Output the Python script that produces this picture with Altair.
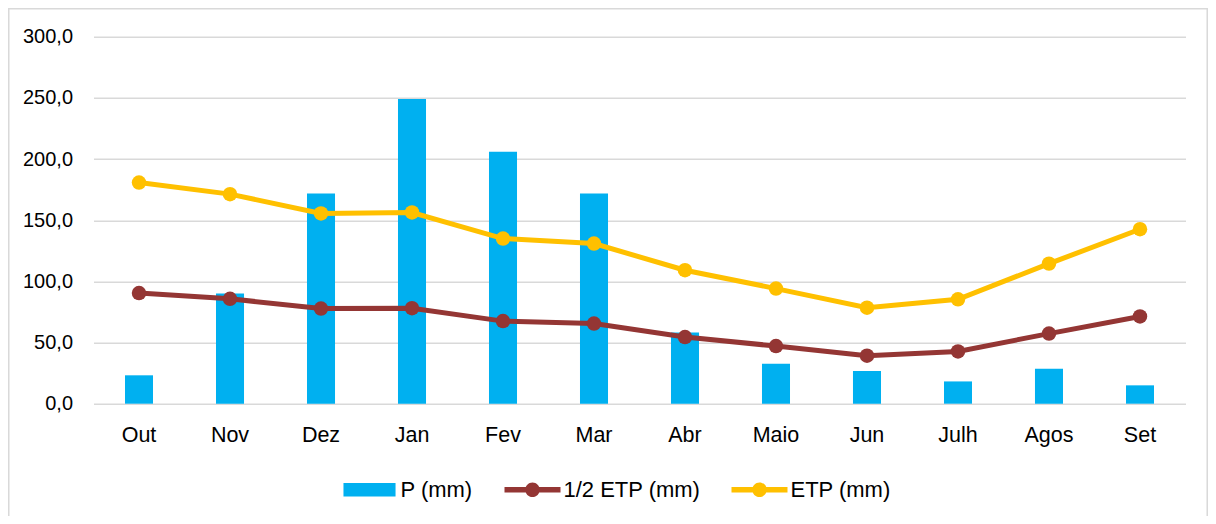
import altair as alt
import pandas as pd

meses = ["Out", "Nov", "Dez", "Jan", "Fev", "Mar", "Abr", "Maio", "Jun", "Julh", "Agos", "Set"]
p_mm = [23.2, 90.0, 171.8, 249.0, 205.9, 171.8, 58.1, 32.7, 26.7, 18.2, 28.6, 15.0]
etp_mm = [180.8, 171.3, 155.5, 156.3, 135.0, 130.9, 109.1, 94.1, 78.5, 85.3, 114.5, 142.6]
meia_etp_mm = [90.4, 85.7, 77.8, 78.1, 67.5, 65.5, 54.5, 47.1, 39.2, 42.7, 57.3, 71.3]

series = ["P (mm)", "1/2 ETP (mm)", "ETP (mm)"]
cores = ["#00B0F0", "#943634", "#FFC000"]
y_ticks = [0, 50, 100, 150, 200, 250, 300]

rows = []
for i, m in enumerate(meses):
    rows.append({"Mes": m, "Serie": series[0], "Valor": p_mm[i]})
    rows.append({"Mes": m, "Serie": series[1], "Valor": meia_etp_mm[i]})
    rows.append({"Mes": m, "Serie": series[2], "Valor": etp_mm[i]})
df = pd.DataFrame(rows)

FONT = "Liberation Sans, Arial, sans-serif"

bar_path = "M-0.93,-0.24L0.93,-0.24L0.93,0.24L-0.93,0.24Z"
line_path = ("M-1,-0.1L1,-0.1L1,0.1L-1,0.1Z "
             "M-0.26,0A0.26,0.26 0 1,1 0.26,0A0.26,0.26 0 1,1 -0.26,0Z")

legend = alt.Legend(
    title=None,
    orient="none",
    direction="horizontal",
    legendX=248,
    legendY=425,
    padding=0,
    symbolSize=3136,
    symbolType={"expr": f"datum.value === 'P (mm)' ? '{bar_path}' : '{line_path}'"},
    symbolFillColor={"expr": "scale('color', datum.value)"},
    symbolStrokeColor={"expr": "scale('color', datum.value)"},
    symbolStrokeWidth=0,
    symbolOpacity=1,
    labelFont=FONT,
    labelFontSize=22,
    labelColor="#000000",
    labelOffset=3,
    labelLimit=400,
    columnPadding=31,
)

color = alt.Color(
    "Serie:N",
    scale=alt.Scale(domain=series, range=cores),
    legend=legend,
)

x_enc = alt.X(
    "Mes:N",
    sort=meses,
    title=None,
    scale=alt.Scale(paddingInner=0.692, paddingOuter=0.346),
    axis=alt.Axis(
        labelAngle=0, domain=False, ticks=False, tickSize=0, labelPadding=21,
        labelFont=FONT, labelFontSize=21.5, labelColor="#000000", grid=False,
    ),
)
y_enc = alt.Y(
    "Valor:Q",
    title=None,
    scale=alt.Scale(domain=[0, 300], nice=False),
    axis=alt.Axis(
        values=y_ticks, domain=False, ticks=False, tickSize=0, labelPadding=21,
        labelFont=FONT, labelFontSize=20, labelColor="#000000",
        grid=True, gridColor="#d9d9d9", gridWidth=1.5,
        labelExpr="replace(format(datum.value, '.1f'), '.', ',')",
    ),
)

base = alt.Chart(df)

bars = base.transform_filter(alt.datum.Serie == "P (mm)").mark_bar().encode(
    x=x_enc, y=y_enc, color=color
)

lines = base.transform_filter(alt.datum.Serie != "P (mm)").mark_line(
    strokeWidth=5,
    point=alt.OverlayMarkDef(size=210, filled=True, opacity=1),
).encode(x=x_enc, y=y_enc, color=color)

border = alt.Chart(pd.DataFrame({"b": [1]})).mark_rect(
    fill="transparent", stroke="#d9d9d9", strokeWidth=1.5
).encode(
    x=alt.value(-84.75), x2=alt.value(1113.75), y=alt.value(-27.95), y2=alt.value(600)
)

chart = alt.layer(border, bars, lines).properties(
    width=1092,
    height=367,
    autosize=alt.AutoSizeParams(type="none"),
    padding={"left": 85.5, "top": 28.7, "right": 22.5, "bottom": 112},
    background="white",
).configure_view(stroke=None)

chart.save("out.html", embed_options={"renderer": "svg", "actions": False})
